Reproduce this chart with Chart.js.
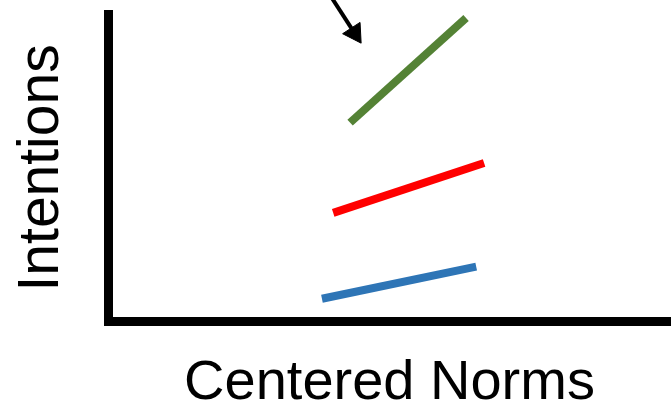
<!DOCTYPE html>
<html>
<head>
<meta charset="utf-8">
<script src="https://cdn.jsdelivr.net/npm/chart.js@4.4.1/dist/chart.umd.min.js"></script>
<style>
  html, body { margin: 0; padding: 0; background: #fff; }
  #wrap { width: 671px; height: 417px; }
</style>
</head>
<body>
<div id="wrap"><canvas id="chart" width="671" height="417"></canvas></div>
<script>
// valores (unidades arbitrarias 0-100)
const greenX = [43.0, 63.6];
const greenY = [64.7, 98.7];
const redX = [40.0, 66.8];
const redY = [35.4, 51.6];
const blueX = [38.0, 65.4];
const blueY = [7.5, 17.9];
// flecha que apunta a la linea verde
const arrowX = [39.2, 43.8];
const arrowY = [106.8, 93.8];

const xTitle = 'Centered Norms';
const yTitle = 'Intentions';

function toPoints(xs, ys) {
  return xs.map((x, i) => ({ x: x, y: ys[i] }));
}

function segment(xs, ys, color) {
  return {
    data: toPoints(xs, ys),
    borderColor: color,
    backgroundColor: color,
    borderWidth: 8,
    borderCapStyle: 'butt',
    pointRadius: 0,
    showLine: true,
    clip: false
  };
}

const ctx = document.getElementById('chart').getContext('2d');
new Chart(ctx, {
  type: 'scatter',
  data: {
    datasets: [
      segment(blueX, blueY, '#2E75B6'),
      segment(redX, redY, '#FF0000'),
      segment(greenX, greenY, '#548235'),
      {
        data: toPoints(arrowX, arrowY),
        borderColor: '#000',
        backgroundColor: '#000',
        borderWidth: 4,
        showLine: true,
        clip: false,
        pointStyle: 'triangle',
        rotation: 147,
        pointRadius: [0, 12],
        pointBorderWidth: 1,
        pointBackgroundColor: '#000',
        pointBorderColor: '#000'
      }
    ]
  },
  options: {
    responsive: false,
    animation: false,
    layout: { autoPadding: false, padding: { top: 14, left: 0, right: 0, bottom: 0 } },
    plugins: {
      legend: { display: false },
      tooltip: { enabled: false }
    },
    scales: {
      x: {
        type: 'linear',
        min: 0,
        max: 100,
        grid: { display: false, drawTicks: false },
        ticks: { display: false },
        border: { display: true, width: 9, color: '#000' },
        title: {
          display: true,
          text: xTitle,
          color: '#000',
          font: { family: '"Liberation Sans", Arial, sans-serif', size: 56 },
          padding: { top: 28, bottom: 0 }
        }
      },
      y: {
        type: 'linear',
        min: 0,
        max: 100,
        grid: { display: false, drawTicks: false },
        ticks: { display: false },
        border: { display: true, width: 9, color: '#000' },
        title: {
          display: true,
          text: yTitle,
          color: '#000',
          font: { family: '"Liberation Sans", Arial, sans-serif', size: 57 },
          padding: { top: 8, bottom: 31.6 }
        }
      }
    }
  }
});
</script>
</body>
</html>
